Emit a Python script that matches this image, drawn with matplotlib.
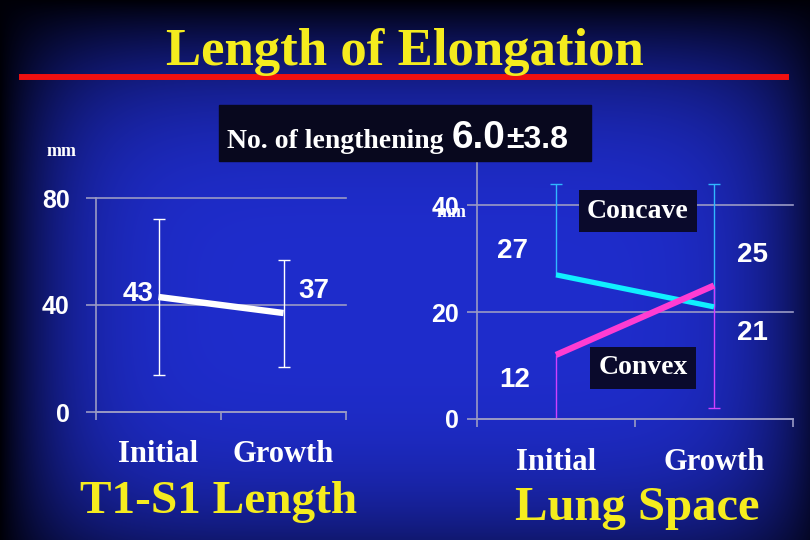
import numpy as np
import matplotlib.pyplot as plt
from matplotlib.lines import Line2D
from matplotlib.patches import Rectangle

# data
groups = ["Initial", "Growth"]
t1s1_mean = [43, 37]
t1s1_sd = [29, 20]
concave_mean = [27, 21]
concave_sd = [17, 23]     # only the upper bar is drawn
convex_mean = [12, 25]
convex_sd = [12, 23]      # only the lower bar is drawn

W, H = 810, 540
AX = "#9a9ac4"
YEL = "#f5ec1e"
SERIF = "Liberation Serif"
SANS = "Liberation Sans"


def fx(x):
    return x / W


def fy(y):
    return 1 - y / H


fig = plt.figure(figsize=(8.1, 5.4), dpi=100)

# blue slide background, dark towards the edges
yy, xx = np.mgrid[0:H, 0:W]
dx = np.clip(np.abs(xx - 415) / 415, 0, 1)
dy = np.clip(np.abs(yy - 300) / 300, 0, 1)
k = (1 - dx ** 6.6) * (1 - dy ** 3.4)
img = np.zeros((H, W, 3))
img[..., 0] = 0.12 * k
img[..., 1] = 0.175 * k
img[..., 2] = 0.03 + 0.77 * k
bg = fig.add_axes([0, 0, 1, 1], zorder=-5)
bg.imshow(img, aspect="auto", extent=[0, 1, 0, 1])
bg.axis("off")

# title and red rule
fig.add_artist(Line2D([fx(22), fx(786)], [fy(77), fy(77)], color="#f01010", lw=4.3))
fig.text(fx(405), fy(65), "Length of Elongation", color=YEL, fontsize=38,
         family=SERIF, weight="bold", ha="center", va="baseline")

# box with number of lengthenings
fig.add_artist(Rectangle((fx(219), fy(161)), fx(591) - fx(219), fy(105) - fy(161),
                         transform=fig.transFigure, color="#08081e", zorder=3))
fig.text(fx(227), fy(148), "No. of lengthening", color="white", fontsize=20,
         family=SERIF, weight="bold", ha="left", va="baseline", zorder=4)
fig.text(fx(452), fy(148), "6.0", color="white", fontsize=28,
         family=SANS, weight="bold", ha="left", va="baseline", zorder=4)
fig.text(fx(506), fy(148), "±3.8", color="white", fontsize=23,
         family=SANS, weight="bold", ha="left", va="baseline", zorder=4)

fig.text(fx(62), fy(152), "mm", color="white", fontsize=13, family=SERIF,
         weight="bold", ha="center", va="center")
fig.text(fx(452), fy(213), "mm", color="white", fontsize=13, family=SERIF,
         weight="bold", ha="center", va="center", zorder=6)


def style_axes(ax, ymax, yticks, labelpad):
    ax.patch.set_alpha(0)
    ax.set_xlim(0, 2)
    ax.set_ylim(0, ymax)
    for s in ["top", "right"]:
        ax.spines[s].set_visible(False)
    for s in ["left", "bottom"]:
        ax.spines[s].set_color(AX)
        ax.spines[s].set_linewidth(1.2)
    ax.set_yticks(yticks)
    ax.set_yticklabels([str(t) for t in yticks], color="white", fontsize=18,
                       family=SANS, weight="bold")
    ax.tick_params(axis="y", length=7, width=1.2, color=AX, pad=labelpad)
    ax.grid(axis="y", color=AX, lw=1.2, clip_on=False)
    ax.set_xticks([0, 1, 2])
    ax.set_xticklabels([])
    ax.tick_params(axis="x", which="major", length=6, width=1.2, color=AX)
    ax.set_xticks([0.5, 1.5], minor=True)
    ax.set_xticklabels(groups, minor=True, color="white", fontsize=22,
                       family=SERIF, weight="bold")
    ax.tick_params(axis="x", which="minor", length=0)
    ax.set_axisbelow(True)


xs = [0.5, 1.5]

# left: T1-S1 length
ax1 = fig.add_axes([fx(96), fy(412), fx(346) - fx(96), fy(198) - fy(412)])
style_axes(ax1, 80, [0, 40, 80], 12)
ax1.tick_params(axis="x", which="minor", pad=20)
ax1.errorbar(xs, t1s1_mean, yerr=t1s1_sd, color="white", lw=4.6,
             elinewidth=1, capsize=4, capthick=1, solid_capstyle="butt")
lab = dict(color="white", fontsize=20, family=SANS, weight="bold",
           ha="center", va="center", textcoords="offset points")
ax1.annotate(str(t1s1_mean[0]), (xs[0], t1s1_mean[0]), xytext=(-15, 2), **lab)
ax1.annotate(str(t1s1_mean[1]), (xs[1], t1s1_mean[1]), xytext=(22, 16), **lab)
fig.text(fx(219), fy(513), "T1-S1 Length", color=YEL, fontsize=34,
         family=SERIF, weight="bold", ha="center", va="baseline")

# right: lung space
ax2 = fig.add_axes([fx(477), fy(419), fx(793) - fx(477), fy(152) - fy(419)])
style_axes(ax2, 50, [0, 20, 40], 6)
ax2.tick_params(axis="x", which="minor", pad=21)
cc = ax2.errorbar(xs, concave_mean, yerr=[[0, 0], concave_sd], color="#10f0ff",
                  lw=3.8, elinewidth=1, capsize=4, capthick=1,
                  solid_capstyle="butt", ecolor="#30b8ff")
cc[1][0].set_visible(False)   # no cap on the empty lower side
cv = ax2.errorbar(xs, convex_mean, yerr=[convex_sd, [0, 0]], color="#ff3cd2",
                  lw=4.5, elinewidth=1, capsize=4, capthick=1,
                  solid_capstyle="butt", ecolor="#d040ff")
cv[1][1].set_visible(False)   # no cap on the empty upper side
ax2.annotate(str(concave_mean[0]), (xs[0], concave_mean[0]), xytext=(-31, 17), **lab)
ax2.annotate(str(convex_mean[0]), (xs[0], convex_mean[0]), xytext=(-30, -18), **lab)
ax2.annotate(str(convex_mean[1]), (xs[1], convex_mean[1]), xytext=(28, 22), **lab)
ax2.annotate(str(concave_mean[1]), (xs[1], concave_mean[1]), xytext=(28, -19), **lab)

box = dict(boxstyle="square,pad=0.3", fc="#0a0a2c", ec="none")
fig.text(fx(638), fy(211), "Concave", color="white", fontsize=20, family=SERIF,
         weight="bold", ha="center", va="center", bbox=box)
fig.text(fx(643), fy(368), "Convex", color="white", fontsize=20, family=SERIF,
         weight="bold", ha="center", va="center", bbox=box)
fig.text(fx(637), fy(520), "Lung Space", color=YEL, fontsize=35,
         family=SERIF, weight="bold", ha="center", va="baseline")

fig.savefig("out.png", dpi=100)
